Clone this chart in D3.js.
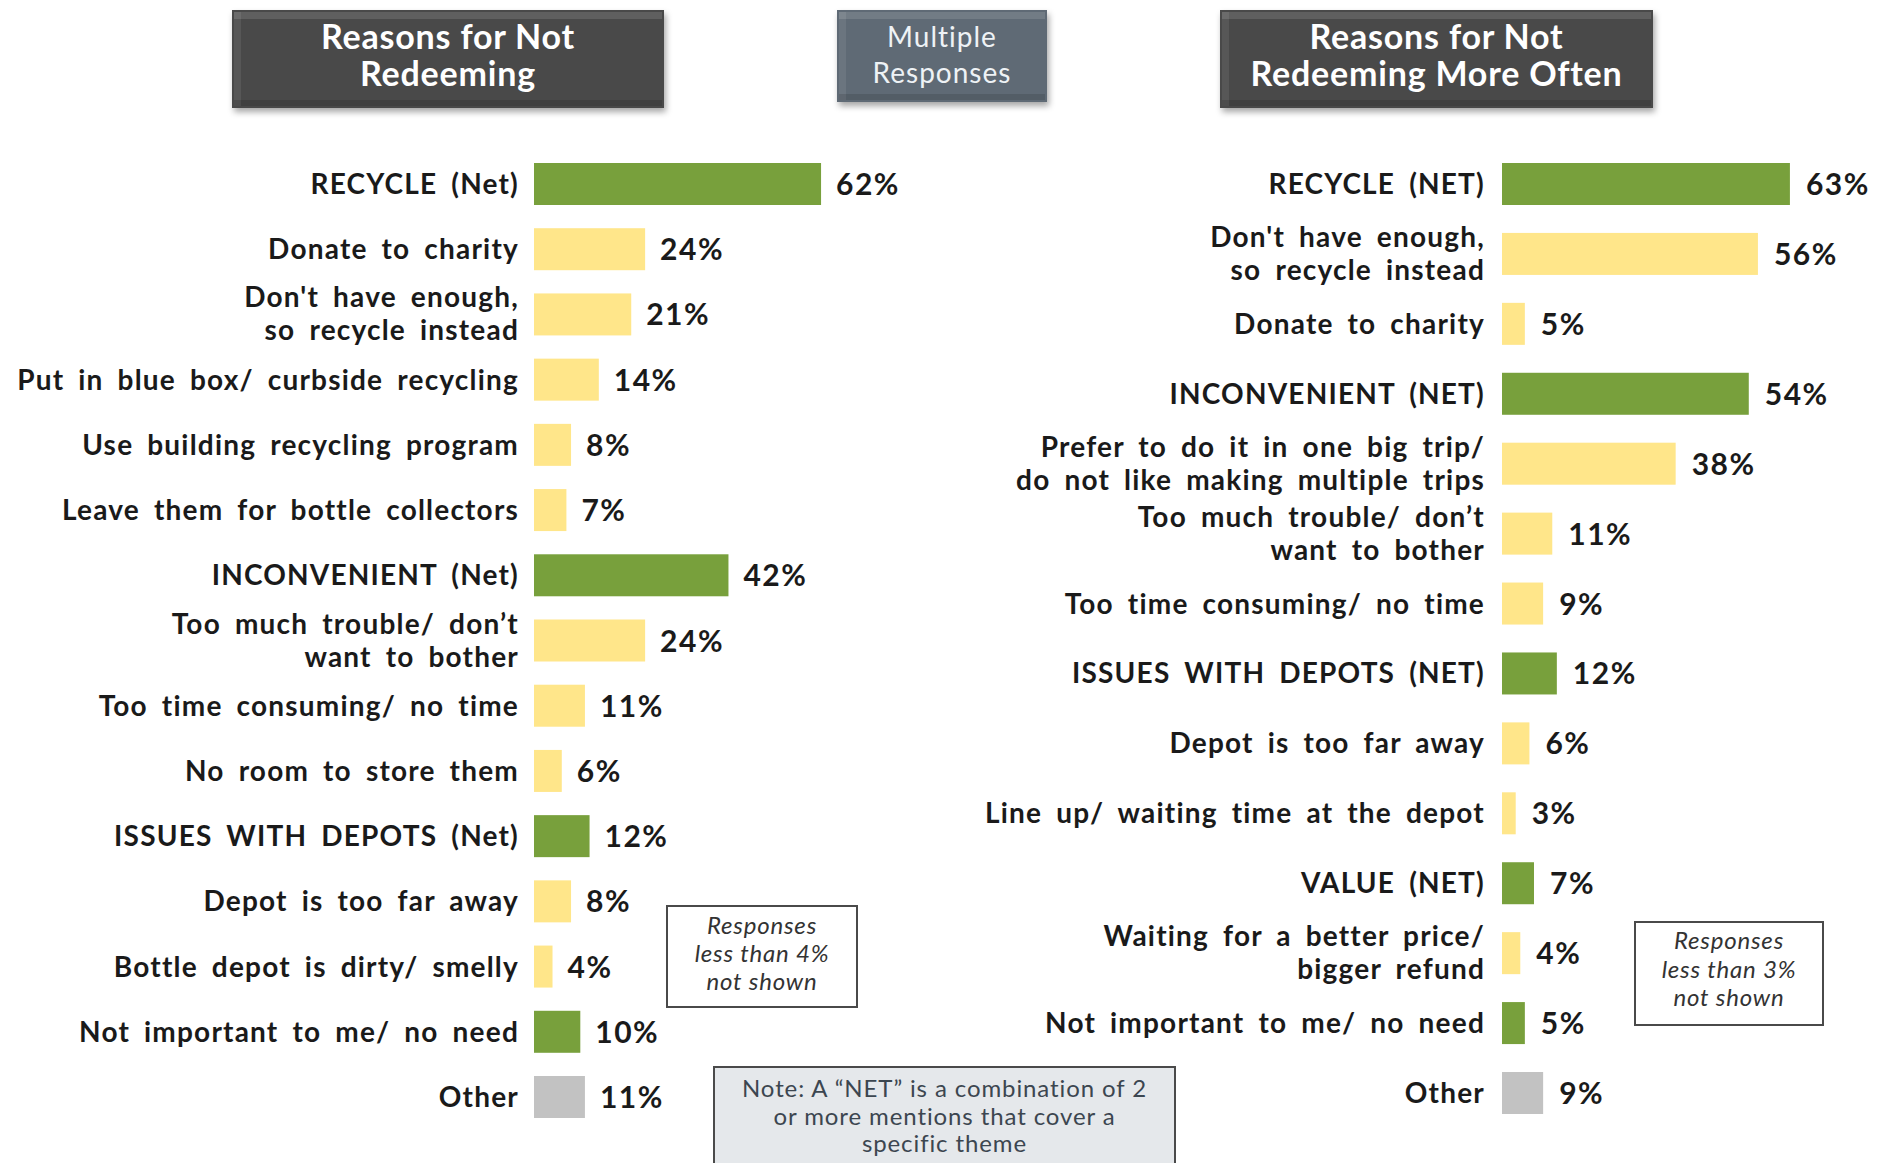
<!DOCTYPE html>
<html>
<head>
<meta charset="utf-8">
<style>
  body { margin: 0; background: #fff; }
  svg text { font-family: Lato, "Open Sans", sans-serif; }
</style>
<script src="https://cdn.jsdelivr.net/npm/d3@7"></script>
</head>
<body>
<svg id="chart" width="1882" height="1163"></svg>
<script>
// left panel: Reasons for Not Redeeming
var leftLabels = ["RECYCLE (Net)", "Donate to charity", "Don't have enough,\nso recycle instead",
  "Put in blue box/ curbside recycling", "Use building recycling program", "Leave them for bottle collectors",
  "INCONVENIENT (Net)", "Too much trouble/ don\u2019t\nwant to bother", "Too time consuming/ no time",
  "No room to store them", "ISSUES WITH DEPOTS (Net)", "Depot is too far away",
  "Bottle depot is dirty/ smelly", "Not important to me/ no need", "Other"];
var leftValues = [62, 24, 21, 14, 8, 7, 42, 24, 11, 6, 12, 8, 4, 10, 11];
var leftKinds = ["net", "sub", "sub", "sub", "sub", "sub", "net", "sub", "sub", "sub", "net", "sub", "sub", "net", "other"];

// right panel: Reasons for Not Redeeming More Often
var rightLabels = ["RECYCLE (NET)", "Don't have enough,\nso recycle instead", "Donate to charity",
  "INCONVENIENT (NET)", "Prefer to do it in one big trip/\ndo not like making multiple trips",
  "Too much trouble/ don\u2019t\nwant to bother", "Too time consuming/ no time",
  "ISSUES WITH DEPOTS (NET)", "Depot is too far away", "Line up/ waiting time at the depot",
  "VALUE (NET)", "Waiting for a better price/\nbigger refund", "Not important to me/ no need", "Other"];
var rightValues = [63, 56, 5, 54, 38, 11, 9, 12, 6, 3, 7, 4, 5, 9];
var rightKinds = ["net", "sub", "sub", "net", "sub", "sub", "sub", "net", "sub", "sub", "net", "sub", "net", "other"];

var colors = { net: "#78a03c", sub: "#ffe68a", other: "#c2c2c2" };

var svg = d3.select("#chart");

var defs = svg.append("defs");
var sh = defs.append("filter").attr("id", "shadow").attr("x", "-10%").attr("y", "-10%")
  .attr("width", "130%").attr("height", "140%");
sh.append("feDropShadow").attr("dx", 2).attr("dy", 4).attr("stdDeviation", 3)
  .attr("flood-color", "#000").attr("flood-opacity", 0.35);

function header(x, y, w, h, fill, lines, size, weight, color, lineY, ls) {
  var g = svg.append("g");
  g.append("rect").attr("x", x).attr("y", y).attr("width", w).attr("height", h)
    .attr("fill", fill).attr("filter", "url(#shadow)");
  // bevel edges
  g.append("rect").attr("x", x + 2).attr("y", y + 2).attr("width", w - 4).attr("height", 7)
    .attr("fill", "#fff").attr("opacity", 0.12);
  g.append("rect").attr("x", x + 2).attr("y", y + 2).attr("width", 7).attr("height", h - 4)
    .attr("fill", "#fff").attr("opacity", 0.08);
  g.append("rect").attr("x", x + 2).attr("y", y + h - 8).attr("width", w - 4).attr("height", 6)
    .attr("fill", "#000").attr("opacity", 0.12);
  lines.forEach(function(t, i) {
    g.append("text").attr("x", x + w / 2).attr("y", lineY[i])
      .attr("text-anchor", "middle").attr("font-size", size).attr("font-weight", weight)
      .attr("letter-spacing", ls).attr("fill", color).text(t);
  });
}

header(232, 10, 432, 98, "#484848", ["Reasons for Not", "Redeeming"], 34, "bold", "#fff", [49, 86], 0.8);
header(837, 10, 210, 92, "#5f6b74", ["Multiple", "Responses"], 28, "normal", "#eef2f5", [47, 83], 1);
header(1220, 10, 433, 98, "#484848", ["Reasons for Not", "Redeeming  More Often"], 34, "bold", "#fff", [49, 86], 0.8);

function panel(labels, values, kinds, x0, pxPerPct, yTop, yBottom, labelRight, valueGap) {
  var x = d3.scaleLinear().domain([0, 100]).range([x0, x0 + pxPerPct * 100]);
  var y = d3.scalePoint().domain(d3.range(labels.length)).range([yTop, yBottom]);
  var barH = 42;
  var g = svg.append("g");

  g.selectAll("rect.bar").data(values).enter().append("rect")
    .attr("class", "bar")
    .attr("x", x(0))
    .attr("y", function(d, i) { return y(i) - barH / 2; })
    .attr("width", function(d) { return x(d) - x(0); })
    .attr("height", barH)
    .attr("fill", function(d, i) { return colors[kinds[i]]; });

  g.selectAll("text.val").data(values).enter().append("text")
    .attr("class", "val")
    .attr("x", function(d) { return x(d) + valueGap; })
    .attr("y", function(d, i) { return y(i) + 11; })
    .attr("font-size", 30).attr("font-weight", "bold").attr("letter-spacing", 1.5).attr("fill", "#1a1a1a")
    .text(function(d) { return d + "%"; });

  var lab = g.selectAll("text.lab").data(labels).enter().append("text")
    .attr("class", "lab")
    .attr("text-anchor", "end")
    .attr("font-size", 28).attr("font-weight", "bold")
    .attr("letter-spacing", 1.2).attr("word-spacing", 6).attr("fill", "#1a1a1a");
  lab.each(function(d, i) {
    var parts = d.split("\n");
    var t = d3.select(this);
    parts.forEach(function(p, j) {
      var off = parts.length === 1 ? 10 : (j === 0 ? -7 : 26);
      t.append("tspan").attr("x", labelRight).attr("y", y(i) + off).text(p);
    });
  });
}

panel(leftLabels, leftValues, leftKinds, 534, 4.63, 184, 1097, 519, 15);
panel(rightLabels, rightValues, rightKinds, 1502, 4.57, 184, 1093, 1485, 16);

function note(x, y, w, h, fill, lines, lineY, size, style, color, ls) {
  var g = svg.append("g");
  g.append("rect").attr("x", x).attr("y", y).attr("width", w).attr("height", h)
    .attr("fill", fill).attr("stroke", "#4a4a4a").attr("stroke-width", 2);
  lines.forEach(function(t, i) {
    g.append("text").attr("x", x + w / 2).attr("y", lineY[i]).attr("text-anchor", "middle")
      .attr("font-size", size).attr("font-style", style).attr("letter-spacing", ls)
      .attr("fill", color).text(t);
  });
}

note(667, 906, 190, 101, "#fff", ["Responses", "less than 4%", "not shown"], [934, 962, 990], 24, "italic", "#333", 0.8);
note(1635, 922, 188, 103, "#fff", ["Responses", "less than 3%", "not shown"], [949, 978, 1006], 24, "italic", "#333", 0.8);
note(714, 1067, 461, 110, "#e5e8eb", ["Note: A \u201CNET\u201D is a combination of 2", "or more mentions that cover a", "specific theme"],
  [1097, 1125, 1152], 24, "normal", "#3c4650", 0.9);
</script>
</body>
</html>
